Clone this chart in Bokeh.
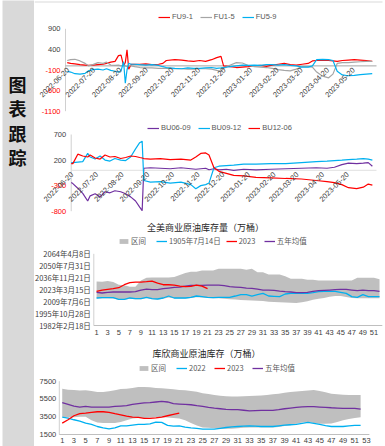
import numpy as np
import pandas as pd
from math import pi
from bokeh.plotting import figure
from bokeh.layouts import row, column
from bokeh.models import (ColumnDataSource, Legend, LegendItem, LabelSet, Label, Range1d)
from bokeh.core.properties import value
from bokeh.embed import file_html
from bokeh.resources import INLINE

# ---------------- data ----------------
side_chars = ["图", "表", "跟", "踪"]

fu_names = ["FU9-1", "FU1-5", "FU5-9"]
fu_dates = ["2022-06-20", "2022-06-24", "2022-06-29", "2022-07-05", "2022-07-11",
            "2022-07-15", "2022-07-20", "2022-07-26", "2022-08-01", "2022-08-05",
            "2022-08-10", "2022-08-15", "2022-08-19", "2022-08-22", "2022-08-25",
            "2022-08-27", "2022-08-29", "2022-08-31", "2022-09-03", "2022-09-07",
            "2022-09-13", "2022-09-20", "2022-09-27", "2022-10-05", "2022-10-10",
            "2022-10-14", "2022-10-24", "2022-11-01", "2022-11-08", "2022-11-15",
            "2022-11-22", "2022-11-29", "2022-12-06", "2022-12-12", "2022-12-17",
            "2022-12-20", "2022-12-28", "2023-01-04", "2023-01-11", "2023-01-18",
            "2023-01-25", "2023-02-01", "2023-02-08", "2023-02-15", "2023-02-22",
            "2023-03-01", "2023-03-08", "2023-03-15", "2023-03-22", "2023-03-29",
            "2023-04-03", "2023-04-08", "2023-04-15", "2023-04-22", "2023-04-27",
            "2023-05-02", "2023-05-08", "2023-05-15", "2023-05-22", "2023-05-29",
            "2023-06-05", "2023-06-12"]
fu_9_1 = [80, 60, 50, 30, 20,
          10, 20, 30, 40, 60,
          90, 110, 250, 260, 0,
          80, 390, -80, 40, 40,
          40, 50, 30, 40, 60,
          130, 150, 140, 120, 110,
          130, 110, 150, 200, 230,
          0, -20, -40, -30, -20,
          0, 10, -10, 20, 40,
          60, 30, 20, 40, 60,
          120, 130, 140, 130, 120,
          110, 130, 140, 150, 140,
          130, 110]
fu_1_5 = [130, 150, 160, 120, 60,
          0, 30, 80, 60, 90,
          20, 10, 20, 0, 20,
          0, -20, 10, 0, -20,
          -40, -50, -50, -60, -60,
          -60, -70, -70, -80, -80,
          -70, -70, -80, -110, -130,
          -60, 20, 80, 70, 10,
          -20, -30, -40, -60, -90,
          -110, -120, -80, -20, -20,
          -30, -150, -250, -290, -200,
          60, 80, 80, 90, 100,
          110, 110]
fu_5_9 = [-130, -150, -190, -200, -180,
          -120, -90, -80, -100, -70,
          -110, -130, -150, -120, 100,
          -420, -100, 60, 40, 40,
          30, 20, 30, 10, -20,
          -40, -60, -70, -50, -60,
          -60, -50, -40, -60, -50,
          -40, -20, 0, 20, 10,
          20, 10, 30, 30, 20,
          30, 10, 0, -30, -30,
          0, 150, 160, 150, 130,
          -130, -220, -240, -230, -210,
          -200, -190]
fu_yticks = [900, 400, -100, -600, -1100]
month_ticks = ["2022-06-20", "2022-07-20", "2022-08-20", "2022-09-20", "2022-10-20",
               "2022-11-20", "2022-12-20", "2023-01-20", "2023-02-20", "2023-03-20",
               "2023-04-20", "2023-05-20"]

bu_names = ["BU06-09", "BU09-12", "BU12-06"]
bu_dates = ["2022-06-20", "2022-06-22", "2022-06-28", "2022-07-04", "2022-07-10",
            "2022-07-13", "2022-07-19", "2022-07-25", "2022-07-31", "2022-08-06",
            "2022-08-12", "2022-08-19", "2022-08-25", "2022-08-31", "2022-09-06",
            "2022-09-11", "2022-09-14", "2022-09-16", "2022-09-24", "2022-10-06",
            "2022-10-18", "2022-10-31", "2022-11-12", "2022-11-18", "2022-11-24",
            "2022-11-30", "2022-12-04", "2022-12-10", "2022-12-16", "2022-12-25",
            "2023-01-03", "2023-01-15", "2023-01-30", "2023-02-17", "2023-03-07",
            "2023-03-26", "2023-04-13", "2023-04-26", "2023-05-05", "2023-05-14",
            "2023-05-22", "2023-06-01", "2023-06-09", "2023-06-15", "2023-06-20"]
bu_06_09 = [-240, -260, -350, -450, -600,
            -500, -460, -520, -420, -440,
            -400, -420, -460, -520, -600,
            -720, -790, 40, 50, 40,
            30, 50, 30, 20, 30,
            40, 10, 30, 10, 20,
            0, 20, 10, 20, 30,
            40, 50, 40, 60, 110,
            140, 130, 140, 150, 80]
bu_09_12 = [150, 150, 160, 170, 330,
            260, 220, 280, 200, 180,
            230, 200, 190, 260, 420,
            540, 570, -200, -230, -220,
            -250, -230, -280, -360, -300,
            -280, -250, 50, 80, 90,
            100, 120, 120, 130, 130,
            150, 170, 180, 190, 200,
            210, 220, 230, 220, 200]
bu_12_06 = [130, 130, 315, 280, 260,
            300, 240, 220, 300, 260,
            270, 230, 250, 280, 270,
            250, 240, 230, 220, 230,
            210, 220, 200, 260, 330,
            340, 300, 50, -20, -60,
            -100, -110, -140, -150, -160,
            -170, -200, -220, -240, -280,
            -340, -360, -330, -270, -290]
bu_yticks = [700, 200, -300, -800]

us_title = "全美商业原油库存量（万桶）"
us_names = ["区间", "1905年7月14日", "2023", "五年均值"]
us_weeks = list(range(1, 53))
us_high = [48460, 48320, 48600, 48180, 47000, 46800, 46200, 46200, 48880, 50000,
           50100, 50100, 50100, 50100, 50250, 51100, 52000, 52500, 52500, 53050,
           53050, 53050, 53700, 53700, 53700, 53700, 53700, 53320, 53700, 52300,
           52300, 51300, 51300, 51300, 50600, 49570, 49570, 49570, 49150, 49150,
           48880, 48880, 48880, 48880, 48880, 48880, 48880, 50000, 50000, 50000,
           50000, 49300]
us_low = [41300, 41400, 41400, 41300, 40800, 40800, 41200, 41000, 41000, 41500,
          41000, 40900, 41200, 41700, 41300, 41300, 41300, 41500, 41800, 41700,
          41500, 41400, 41400, 41200, 41000, 40900, 40700, 40600, 40500, 40400,
          40300, 39900, 39800, 39700, 39600, 39500, 39400, 39700, 40100, 40800,
          41200, 41500, 42000, 42300, 42300, 41900, 41500, 41400, 41400, 41400,
          41400, 41400]
us_2022 = [41510, 41650, 41650, 41650, 40950, 40950, 41510, 41230, 41230, 41790,
           41230, 41090, 41510, 42340, 41510, 41510, 41510, 41790, 42340, 42070,
           41790, 41650, 41790, 41790, 41790, 42340, 42900, 42900, 42340, 42900,
           43450, 42340, 42210, 42070, 43180, 43450, 43450, 43450, 43450, 43730,
           44140, 44280, 44280, 44280, 43870, 43450, 42070, 41790, 42900, 42070,
           42070, 42070]
us_2023 = [44280, 44840, 45120, 45400, 45810, 47060, 47900, 48180, 48180, 48320,
           48600, 47760, 47060, 47060, 46920, 46510, 46230, 46370, 46920, 46510,
           45400]
us_avg5 = [43870, 43590, 43870, 44010, 44010, 44010, 44010, 44150, 44840, 45260,
           44980, 44980, 45400, 45680, 45950, 46090, 46510, 46790, 46790, 46790,
           46920, 46920, 46920, 46650, 46230, 46090, 45950, 45680, 45540, 45260,
           44840, 44840, 44700, 44420, 44150, 44010, 43730, 43730, 43870, 44280,
           44560, 44700, 44840, 44980, 45120, 45120, 44840, 44560, 44840, 44560,
           44560, 44280]
us_yticks = [30000, 35000, 40000, 45000, 50000, 55000, 60000]
us_ylabels = ["1982年2月18日", "1995年10月28日", "2009年7月6日", "2023年3月15日",
              "2036年11月21日", "2050年7月31日", "2064年4月8日"]
us_xticks = [1, 3, 5, 7, 9, 11, 13, 15, 17, 19, 21, 23, 25, 27, 29, 31, 33, 35,
             37, 39, 41, 43, 45, 47, 49, 51]

cu_title = "库欣商业原油库存（万桶）"
cu_names = ["区间", "2022", "2023", "五年均值"]
cu_weeks = list(range(1, 53))
cu_high = [6660, 6550, 6510, 6440, 6470, 6400, 6280, 6280, 6360, 6470,
           6620, 6660, 6740, 6850, 6850, 6810, 6740, 6700, 6660, 6590,
           6510, 6470, 6400, 6320, 6150, 6050, 5950, 5850, 5800, 5780,
           5780, 5800, 5820, 5850, 5880, 5950, 6020, 6100, 6200, 6280,
           6350, 6400, 6450, 6500, 6400, 6250, 6100, 6020, 5980, 5950,
           5950, 5950]
cu_low = [3500, 3450, 3450, 3500, 3500, 3100, 2850, 2800, 2800, 2800,
          2900, 3100, 3300, 3350, 3350, 3400, 3450, 3450, 3400, 3350,
          3300, 3100, 2800, 2500, 2300, 2250, 2200, 2150, 2150, 2150,
          2200, 2250, 2300, 2300, 2300, 2300, 2300, 2350, 2450, 2550,
          2700, 2850, 2900, 2800, 2700, 2700, 2750, 2900, 3100, 3250,
          3350, 3450]
cu_2022 = [3460, 3350, 3160, 3010, 2780, 2630, 2400, 2250, 2140, 2250,
           2480, 2480, 2560, 2630, 2630, 2700, 2890, 2860, 2520, 2440,
           2480, 2330, 2250, 2180, 2100, 2100, 2100, 2200, 2290, 2350,
           2400, 2440, 2480, 2450, 2400, 2400, 2400, 2480, 2550, 2600,
           2630, 2750, 2860, 2750, 2630, 2500, 2400, 2400, 2400, 2480,
           2520, 2520]
cu_2023 = [2780, 3160, 3610, 3840, 3910, 3990, 4060, 4060, 3990, 3840,
           3720, 3570, 3460, 3420, 3310, 3310, 3380, 3460, 3610, 3760,
           3910]
cu_avg5 = [5080, 4890, 4700, 4590, 4660, 4590, 4590, 4590, 4590, 4660,
           4700, 4740, 4890, 4970, 5050, 5080, 5160, 5230, 5160, 4970,
           4930, 4890, 4850, 4740, 4660, 4560, 4470, 4400, 4320, 4300,
           4290, 4230, 4170, 4190, 4210, 4210, 4210, 4300, 4400, 4480,
           4550, 4600, 4630, 4630, 4590, 4550, 4510, 4480, 4440, 4440,
           4440, 4360]
cu_yticks = [1500, 3500, 5500, 7500]
cu_xticks = [1, 3, 5, 7, 9, 11, 13, 15, 17, 19, 21, 23, 25, 27, 29, 31, 33, 35,
             37, 39, 41, 43, 45, 47, 49, 51, 53]

# ---------------- styles ----------------
RED = "#ff0000"
GRAY = "#a5a5a5"
BLUE = "#00b0f0"
PURPLE = "#7030a0"
BAND = "#bfbfbf"
TXT = "#404040"
AXIS = "#d0d0d0"
LAT = "Liberation Sans"
CJK = "Noto Sans CJK SC"
SIDE_W = 34
W = 351


def ms(d):
    return pd.Timestamp(d).value / 1e6


def ext(v0, v1, p0, p1, total):
    """range in which value v0 sits at pixel p0 and v1 at pixel p1 of a 'total' px frame"""
    scale = (v1 - v0) / (p1 - p0)
    start = v0 - p0 * scale
    return start, start + total * scale


def new_fig(h, xr, yr, **kw):
    p = figure(width=W, height=h, output_backend="svg", toolbar_location=None,
               x_range=Range1d(*xr), y_range=Range1d(*yr), min_border=0, **kw)
    p.axis.visible = False
    p.grid.visible = False
    p.outline_line_color = None
    p.background_fill_color = "white"
    p.border_fill_color = "white"
    return p


def make_legend(items, loc, font, glyph_w=12, spacing=7):
    return Legend(items=items, orientation="horizontal", location=loc,
                  label_text_font=font, label_text_font_size="7.5px",
                  label_text_color="#595959", glyph_width=glyph_w, glyph_height=6,
                  label_height=8, label_standoff=2, spacing=spacing, padding=0,
                  margin=0, border_line_color=None, background_fill_alpha=0)


def spread_panel(h, xpx, ypx, xr, yr, dates, series, names, colors, yticks,
                 zero_color, leg_loc, top_rule=False):
    x0, x1 = ms(xr[0]), ms(xr[1])
    xs, xe = ext(x0, x1, xpx[0], xpx[1], W)
    ys, ye = ext(yr[0], yr[1], h - ypx[0], h - ypx[1], h)
    p = new_fig(h, (xs, xe), (ys, ye), x_axis_type="datetime")
    if top_rule:  # thin frame line at the top of the white area
        yy = ye - 1.5 * (ye - ys) / h
        p.segment(x0=[xs], y0=[yy], x1=[xs + (W - 3) * (xe - xs) / W], y1=[yy],
                  line_color="#d9d9d9", line_width=1)
    # value axis line and the zero line that carries the dates
    p.segment(x0=[x0], y0=[yr[0]], x1=[x0], y1=[yr[1]], line_color=AXIS, line_width=1)
    p.segment(x0=[x0], y0=[0], x1=[x1], y1=[0], line_color=zero_color, line_width=1)
    data = {"x": np.array(dates, dtype="datetime64[ms]")}
    for i, s in enumerate(series):
        data[f"s{i}"] = s
    src = ColumnDataSource(data)
    items = []
    for i, (n, c) in enumerate(zip(names, colors)):
        r = p.line("x", f"s{i}", source=src, line_color=c, line_width=1.2)
        items.append(LegendItem(label=n, renderers=[r]))
    ysrc = ColumnDataSource(dict(x=[x0] * len(yticks), y=yticks,
                                 t=[str(v) for v in yticks],
                                 c=[TXT if v >= 0 else RED for v in yticks]))
    p.add_layout(LabelSet(x="x", y="y", text="t", text_color="c", source=ysrc,
                          text_align="right", text_baseline="middle", x_offset=-5,
                          text_font=value(LAT), text_font_size="7.5px"))
    xsrc = ColumnDataSource(dict(x=np.array(month_ticks, dtype="datetime64[ms]"),
                                 y=[0] * len(month_ticks), t=month_ticks))
    p.add_layout(LabelSet(x="x", y="y", text="t", source=xsrc, angle=pi / 4,
                          text_align="right", text_baseline="middle",
                          x_offset=1, y_offset=-3, text_color=TXT,
                          text_font=value(LAT), text_font_size="7.5px"))
    p.add_layout(make_legend(items, leg_loc, LAT))
    return p


def stock_panel(h, xpx, ypx, nx, yr, weeks, low, high, s2022, s2023, avg5, names,
                yticks, ylabels, ylabel_font, xticks, xlab_off, title, title_xy,
                leg_loc, leg_spacing):
    p = new_fig(h, ext(0.5, nx + 0.5, xpx[0], xpx[1], W),
                ext(yr[0], yr[1], h - ypx[0], h - ypx[1], h))
    src = ColumnDataSource(dict(x=weeks, lo=low, hi=high, a=s2022, v=avg5))
    src23 = ColumnDataSource(dict(x=weeks[:len(s2023)], b=s2023))
    r0 = p.varea(x="x", y1="lo", y2="hi", source=src, fill_color=BAND)
    r1 = p.line("x", "a", source=src, line_color=BLUE, line_width=1.3)
    r3 = p.line("x", "v", source=src, line_color=PURPLE, line_width=1.3)
    r2 = p.line("x", "b", source=src23, line_color=RED, line_width=1.3)
    items = [LegendItem(label=names[0], renderers=[r0]),
             LegendItem(label=names[1], renderers=[r1]),
             LegendItem(label=names[2], renderers=[r2]),
             LegendItem(label=names[3], renderers=[r3])]
    p.add_layout(make_legend(items, leg_loc, CJK, glyph_w=11, spacing=leg_spacing))
    # axes
    p.segment(x0=[0.5], y0=[yr[0]], x1=[0.5], y1=[yr[1]], line_color=AXIS, line_width=1)
    p.segment(x0=[0.5], y0=[yr[0]], x1=[nx + 0.5], y1=[yr[0]], line_color="#bfbfbf",
              line_width=1)
    ytxt = ylabels if ylabels is not None else [str(v) for v in yticks]
    ysrc = ColumnDataSource(dict(x=[0.5] * len(yticks), y=yticks, t=ytxt))
    p.add_layout(LabelSet(x="x", y="y", text="t", source=ysrc, text_align="right",
                          text_baseline="middle", x_offset=-3, text_color=TXT,
                          text_font=value(ylabel_font), text_font_size="7.5px"))
    xsrc = ColumnDataSource(dict(x=xticks, y=[yr[0]] * len(xticks),
                                 t=[str(v) for v in xticks]))
    p.add_layout(LabelSet(x="x", y="y", text="t", source=xsrc, text_align="center",
                          text_baseline="top", y_offset=-xlab_off, text_color=TXT,
                          text_font=value(LAT), text_font_size="7.5px"))
    p.add_layout(Label(x=title_xy[0], y=title_xy[1], x_units="screen", y_units="screen",
                       text=title, text_align="center", text_baseline="middle",
                       text_font=CJK, text_font_size="9px", text_color="#262626"))
    return p


# ---------------- panels (pixel anchors are inside each panel) ----------------
p1 = spread_panel(122, (31, 342), (110.7, 28.3), ("2022-06-18", "2023-06-17"),
                  (-1100, 900), fu_dates, [fu_9_1, fu_1_5, fu_5_9], fu_names,
                  [RED, GRAY, BLUE], fu_yticks, "#a6a6a6", (124, 101), top_rule=True)
p2 = spread_panel(100, (36.7, 342), (88.7, 12), ("2022-06-20", "2023-06-25"),
                  (-800, 700), bu_dates, [bu_06_09, bu_09_12, bu_12_06], bu_names,
                  [PURPLE, BLUE, RED], bu_yticks, "#e0e0e0", (113, 90))
p3 = stock_panel(117, (59.3, 347.8), (103, 31.3), 52, (30000, 60000), us_weeks, us_low,
                 us_high, us_2022, us_2023, us_avg5, us_names, us_yticks, us_ylabels,
                 CJK, us_xticks, 4, us_title, (171, 112), (84, 93), 5)
p4 = stock_panel(107, (24.8, 334.9), (95, 41.7), 53, (1500, 7500), cu_weeks, cu_low,
                 cu_high, cu_2022, cu_2023, cu_avg5, cu_names, cu_yticks, None, LAT,
                 cu_xticks, 3, cu_title, (172, 93), (104, 73), 5)

# ---------------- sidebar ----------------
side = figure(width=SIDE_W, height=446, output_backend="svg", toolbar_location=None,
              x_range=Range1d(0, 32), y_range=Range1d(446, 0), min_border=0,
              min_border_left=2)
side.axis.visible = False
side.grid.visible = False
side.outline_line_color = None
side.background_fill_color = "#d9d9d9"
side.border_fill_color = "white"
side.text(x=[15] * len(side_chars), y=[83 + 24.5 * i for i in range(len(side_chars))],
          text=side_chars, text_font=value(CJK), text_font_size="18px",
          text_font_style="bold", text_align="center", text_baseline="middle",
          text_color="#111111")

layout = row(side, column(p1, p2, p3, p4, spacing=0), spacing=0)
open("out.html", "w").write(file_html(layout, INLINE))
